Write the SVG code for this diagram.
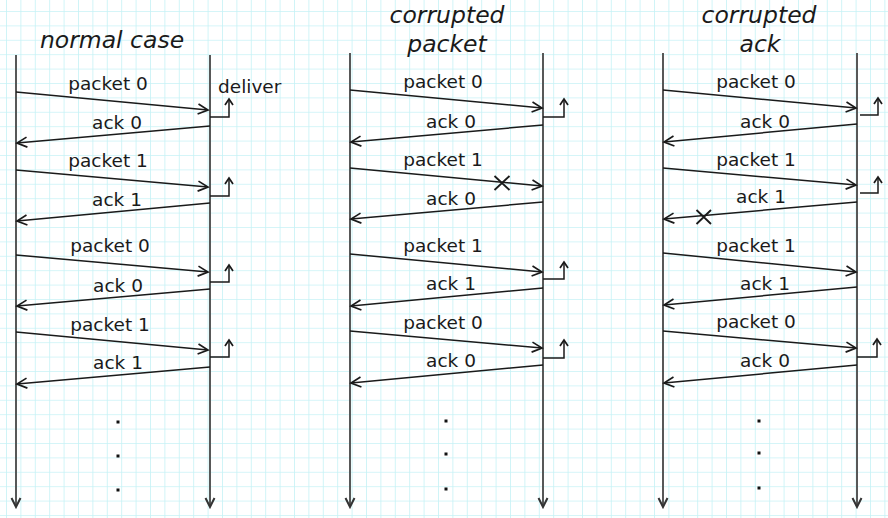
<svg xmlns="http://www.w3.org/2000/svg" width="888" height="518" viewBox="0 0 888 518">
  <defs>
    <pattern id="grid" patternUnits="userSpaceOnUse" x="6" y="11" width="14.4" height="14.4">
      <path d="M0,0 H14.4 M0,0 V14.4" fill="none" stroke="#c6f2f6" stroke-width="1.6"/>
    </pattern>
    <marker id="head" markerUnits="userSpaceOnUse" markerWidth="14" markerHeight="14" viewBox="-12 -7 14 14" refX="0" refY="0" orient="auto">
      <path d="M-10,-5 L0,0 L-10,5" fill="none" stroke="#1a1a1a" stroke-width="1.7"/>
    </marker>
    <marker id="head-time" markerUnits="userSpaceOnUse" markerWidth="14" markerHeight="14" viewBox="-12 -7 14 14" refX="0" refY="0" orient="auto">
      <path d="M-9,-4.5 L0,0 L-9,4.5" fill="none" stroke="#333" stroke-width="2"/>
    </marker>
    <marker id="head-small" markerUnits="userSpaceOnUse" markerWidth="10" markerHeight="10" viewBox="-8 -5 10 10" refX="0" refY="0" orient="auto">
      <path d="M-6,-4 L0,0 L-6,4" fill="none" stroke="#1a1a1a" stroke-width="1.7"/>
    </marker>
  </defs>
  <style>
    .lifeline { stroke: #585858; stroke-width: 2; fill: none; marker-end: url(#head-time); }
    .msg { stroke: #1a1a1a; stroke-width: 1.5; fill: none; marker-end: url(#head); }
    .deliver { stroke: #1a1a1a; stroke-width: 1.5; fill: none; marker-end: url(#head-small); }
    .lost { stroke: #1a1a1a; stroke-width: 1.8; fill: none; }
    .label { font-family: "DejaVu Sans", Verdana, sans-serif; font-size: 18.5px; fill: #1a1a1a; text-anchor: middle; }
    .title { font-family: "DejaVu Sans", Verdana, sans-serif; font-size: 23.5px; font-style: italic; fill: #1a1a1a; text-anchor: middle; }
    .dot { fill: #111; }
  </style>

  <rect width="888" height="518" fill="#ffffff"/>
  <rect width="888" height="518" fill="url(#grid)"/>

  <!-- normal case -->
  <g id="normal-case">
    <g id="normal-title"><text class="title" x="112" y="48">normal case</text></g>
    <g id="normal-sender"><line class="lifeline" x1="16" y1="55" x2="16" y2="507"/></g>
    <g id="normal-receiver"><line class="lifeline" x1="210" y1="55" x2="210" y2="507"/></g>
    <g id="normal-connectors">
      <line class="msg" x1="16" y1="92" x2="208" y2="110"/>
      <text class="label" x="108" y="90">packet 0</text>
      <line class="msg" x1="210" y1="126" x2="17" y2="143"/>
      <text class="label" x="117" y="129">ack 0</text>
      <line class="msg" x1="16" y1="170" x2="208" y2="187"/>
      <text class="label" x="108" y="167">packet 1</text>
      <line class="msg" x1="210" y1="203" x2="17" y2="221"/>
      <text class="label" x="117" y="206">ack 1</text>
      <line class="msg" x1="16" y1="255" x2="208" y2="272"/>
      <text class="label" x="110" y="252">packet 0</text>
      <line class="msg" x1="210" y1="289" x2="17" y2="306"/>
      <text class="label" x="118" y="292">ack 0</text>
      <line class="msg" x1="16" y1="332" x2="208" y2="350"/>
      <text class="label" x="110" y="331">packet 1</text>
      <line class="msg" x1="210" y1="367" x2="17" y2="384"/>
      <text class="label" x="118" y="369">ack 1</text>
      <path class="deliver" d="M210,117 H229 V99"/>
      <path class="deliver" d="M210,196 H229 V178"/>
      <path class="deliver" d="M210,282 H229 V265"/>
      <path class="deliver" d="M210,357 H229 V340"/>
    </g>
    <text class="label" x="218" y="93" style="text-anchor:start">deliver</text>
    <g id="normal-more">
      <rect class="dot" x="116.5" y="420.5" width="3" height="3"/>
      <rect class="dot" x="116.5" y="454.5" width="3" height="3"/>
      <rect class="dot" x="116.5" y="488.5" width="3" height="3"/>
    </g>
  </g>

  <!-- corrupted packet -->
  <g id="corrupted-packet">
    <g id="cp-title">
      <text class="title" x="447" y="23">corrupted</text>
      <text class="title" x="447" y="52">packet</text>
    </g>
    <g id="cp-sender"><line class="lifeline" x1="350" y1="53" x2="350" y2="507"/></g>
    <g id="cp-receiver"><line class="lifeline" x1="543" y1="53" x2="543" y2="507"/></g>
    <g id="cp-connectors">
      <line class="msg" x1="350" y1="90" x2="542" y2="108"/>
      <text class="label" x="443" y="88">packet 0</text>
      <line class="msg" x1="543" y1="125" x2="351" y2="142"/>
      <text class="label" x="451" y="128">ack 0</text>
      <line class="msg" x1="350" y1="168" x2="542" y2="186"/>
      <text class="label" x="443" y="166">packet 1</text>
      <path class="lost" d="M494.5,176 L509.5,190 M509.5,176 L494.5,190"/>
      <line class="msg" x1="543" y1="202" x2="351" y2="219"/>
      <text class="label" x="451" y="205">ack 0</text>
      <line class="msg" x1="350" y1="254" x2="542" y2="272"/>
      <text class="label" x="443" y="252">packet 1</text>
      <line class="msg" x1="543" y1="288" x2="351" y2="306"/>
      <text class="label" x="451" y="290">ack 1</text>
      <line class="msg" x1="350" y1="331" x2="542" y2="348"/>
      <text class="label" x="443" y="329">packet 0</text>
      <line class="msg" x1="543" y1="365" x2="351" y2="383"/>
      <text class="label" x="451" y="367">ack 0</text>
      <path class="deliver" d="M543,117 H564 V99"/>
      <path class="deliver" d="M543,279 H564 V262"/>
      <path class="deliver" d="M543,358 H564 V340"/>
    </g>
    <g id="cp-more">
      <rect class="dot" x="444.5" y="419.5" width="3" height="3"/>
      <rect class="dot" x="444.5" y="452.5" width="3" height="3"/>
      <rect class="dot" x="444.5" y="487.5" width="3" height="3"/>
    </g>
  </g>

  <!-- corrupted ack -->
  <g id="corrupted-ack">
    <g id="ca-title">
      <text class="title" x="759" y="23">corrupted</text>
      <text class="title" x="760" y="52">ack</text>
    </g>
    <g id="ca-sender"><line class="lifeline" x1="663" y1="53" x2="663" y2="507"/></g>
    <g id="ca-receiver"><line class="lifeline" x1="857" y1="53" x2="857" y2="507"/></g>
    <g id="ca-connectors">
      <line class="msg" x1="663" y1="90" x2="856" y2="108"/>
      <text class="label" x="756" y="88">packet 0</text>
      <line class="msg" x1="857" y1="124" x2="664" y2="142"/>
      <text class="label" x="765" y="128">ack 0</text>
      <line class="msg" x1="663" y1="168" x2="856" y2="185"/>
      <text class="label" x="756" y="166">packet 1</text>
      <line class="msg" x1="857" y1="202" x2="664" y2="219"/>
      <text class="label" x="761" y="203">ack 1</text>
      <path class="lost" d="M696.5,210 L711,224 M711,210 L696.5,224"/>
      <line class="msg" x1="663" y1="253" x2="856" y2="272"/>
      <text class="label" x="756" y="252">packet 1</text>
      <line class="msg" x1="857" y1="287" x2="664" y2="305"/>
      <text class="label" x="765" y="290">ack 1</text>
      <line class="msg" x1="663" y1="331" x2="856" y2="348"/>
      <text class="label" x="756" y="328">packet 0</text>
      <line class="msg" x1="857" y1="365" x2="664" y2="383"/>
      <text class="label" x="765" y="367">ack 0</text>
      <path class="deliver" d="M860,115 H878 V98"/>
      <path class="deliver" d="M860,193 H878 V177"/>
      <path class="deliver" d="M857,357 H877 V339"/>
    </g>
    <g id="ca-more">
      <rect class="dot" x="757.5" y="419.5" width="3" height="3"/>
      <rect class="dot" x="757.5" y="451.5" width="3" height="3"/>
      <rect class="dot" x="757.5" y="486.5" width="3" height="3"/>
    </g>
  </g>
</svg>
